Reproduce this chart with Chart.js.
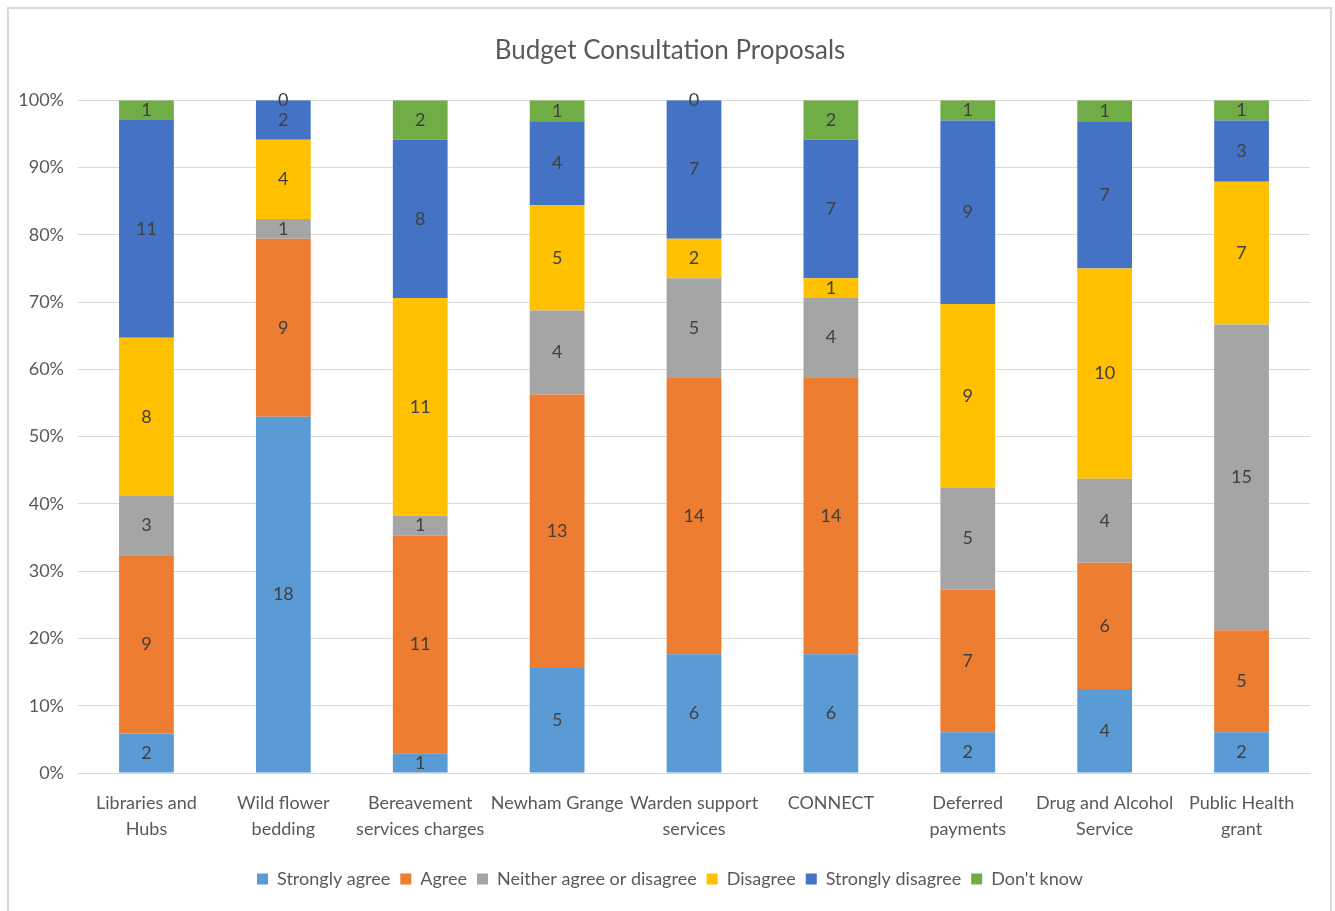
<!DOCTYPE html>
<html>
<head>
<meta charset="utf-8">
<script src="https://cdn.jsdelivr.net/npm/chart.js@4.4.0/dist/chart.umd.min.js"></script>
<style>
  html, body { margin: 0; padding: 0; background: #ffffff; overflow: hidden; }
  #wrap { position: absolute; left: 0; top: 0; width: 1335px; height: 911px; }
  #frame { position: absolute; left: 7px; top: 7px; width: 1321px; height: 930px; border: 2px solid #d9d9d9; pointer-events: none; }
</style>
</head>
<body>
<div id="wrap"><canvas id="c" width="1335" height="911"></canvas></div>
<div id="frame"></div>
<script>
const categories = [
  ["Libraries and", "Hubs"],
  ["Wild flower", "bedding"],
  ["Bereavement", "services charges"],
  "Newham Grange",
  ["Warden support", "services"],
  "CONNECT",
  ["Deferred", "payments"],
  ["Drug and Alcohol", "Service"],
  ["Public Health", "grant"]
];
const stronglyAgree    = [2, 18, 1, 5, 6, 6, 2, 4, 2];
const agree            = [9, 9, 11, 13, 14, 14, 7, 6, 5];
const neither          = [3, 1, 1, 4, 5, 4, 5, 4, 15];
const disagree         = [8, 4, 11, 5, 2, 1, 9, 10, 7];
const stronglyDisagree = [11, 2, 8, 4, 7, 7, 9, 7, 3];
const dontKnow         = [1, 0, 2, 1, 0, 2, 1, 1, 1];
const yTicks = ["0%","10%","20%","30%","40%","50%","60%","70%","80%","90%","100%"];

const seriesNames = ["Strongly agree","Agree","Neither agree or disagree","Disagree","Strongly disagree","Don't know"];
const seriesCounts = [stronglyAgree, agree, neither, disagree, stronglyDisagree, dontKnow];
const seriesColors = ["#5B9BD5","#ED7D31","#A5A5A5","#FFC000","#4472C4","#70AD47"];

const totals = categories.map((_, i) => seriesCounts.reduce((s, arr) => s + arr[i], 0));

const FONT = "Lato, 'Open Sans', sans-serif";

const datasets = seriesNames.map((name, k) => ({
  label: name,
  data: seriesCounts[k].map((v, i) => v / totals[i] * 100),
  counts: seriesCounts[k],
  backgroundColor: seriesColors[k],
  borderWidth: 0,
  categoryPercentage: 1.0,
  barPercentage: 0.4
}));

const labelPlugin = {
  id: 'countLabels',
  afterDatasetsDraw(chart) {
    const ctx = chart.ctx;
    ctx.save();
    ctx.font = "18px " + FONT;
    ctx.fillStyle = "#404040";
    ctx.textAlign = "center";
    ctx.textBaseline = "middle";
    chart.data.datasets.forEach((ds, di) => {
      const meta = chart.getDatasetMeta(di);
      meta.data.forEach((el, i) => {
        const p = el.getCenterPoint();
        ctx.fillText(String(ds.counts[i]), p.x, p.y);
      });
    });
    ctx.restore();
  }
};

new Chart(document.getElementById('c'), {
  type: 'bar',
  data: { labels: categories, datasets },
  plugins: [labelPlugin],
  options: {
    responsive: false,
    animation: false,
    layout: { padding: { left: 30, right: 25, top: 1, bottom: 13 } },
    plugins: {
      title: {
        display: true,
        text: "Budget Consultation Proposals",
        color: "#595959",
        font: { family: FONT, size: 26, weight: 'normal' },
        padding: { top: 34, bottom: 34 }
      },
      legend: {
        position: 'bottom',
        labels: {
          color: "#595959",
          font: { family: FONT, size: 18 },
          boxWidth: 11,
          boxHeight: 11,
          padding: 10
        }
      },
      tooltip: { enabled: false }
    },
    scales: {
      x: {
        stacked: true,
        grid: { display: false, drawTicks: false },
        border: { display: true, color: "#d9d9d9", width: 1 },
        ticks: {
          color: "#595959",
          font: { family: FONT, size: 18, lineHeight: 1.45 },
          padding: 17,
          maxRotation: 0,
          autoSkip: false
        },
        afterFit(scale) { scale.height = 87; }
      },
      y: {
        stacked: true,
        min: 0,
        max: 100,
        grid: { color: "#d9d9d9", lineWidth: 1, drawTicks: false },
        border: { display: false },
        ticks: {
          stepSize: 10,
          color: "#595959",
          font: { family: FONT, size: 18 },
          padding: 14,
          callback: (v) => yTicks[Math.round(v / 10)]
        },
        afterFit(scale) {
          scale.width = 48;
          scale._computeLabelArea = function () { return undefined; };
        }
      }
    }
  }
});
</script>
</body>
</html>
